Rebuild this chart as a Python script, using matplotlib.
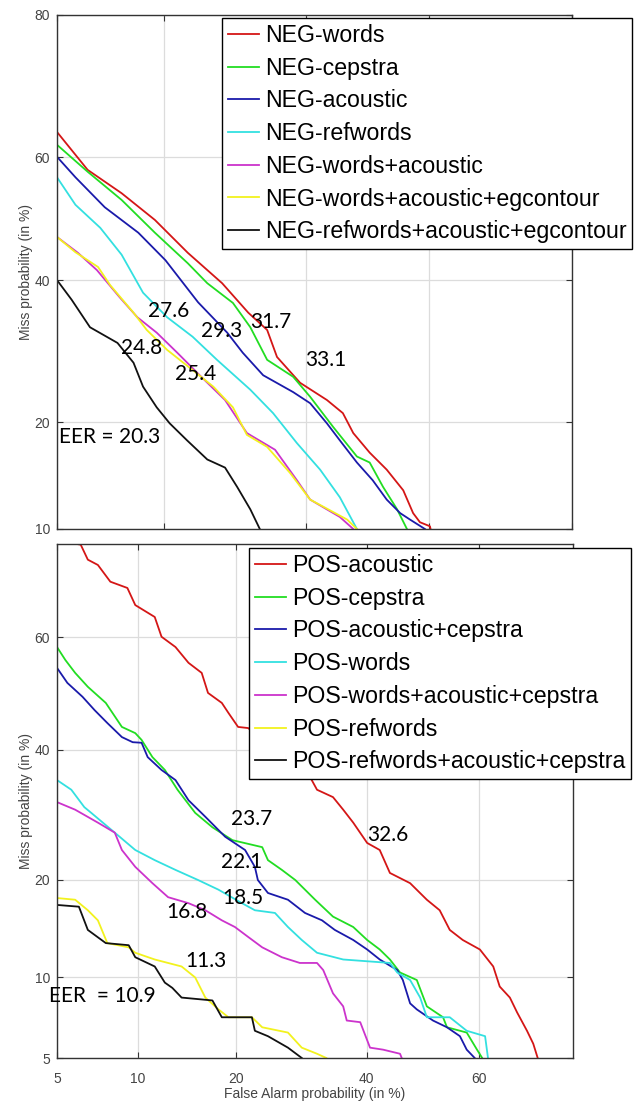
import math
import numpy as np
import matplotlib
matplotlib.use('Agg')
import matplotlib.pyplot as plt

# ---- data: false alarm / miss probabilities (in %) ----
# NEG panel
neg_words_fa = [10.0, 12.4, 15.5, 19.0, 22.9, 27.4, 31.1, 33.9, 35.4, 39.0, 43.3, 45.9, 47.6, 50.3, 53.1, 55.8, 57.4, 58.5, 60.1, 60.2]
neg_words_miss = [64.0, 58.0, 54.2, 49.8, 44.4, 39.5, 34.9, 32.3, 28.4, 24.9, 22.7, 21.1, 18.8, 16.7, 15.0, 13.1, 11.2, 10.5, 10.2, 10.0]
neg_cepstra_fa = [10.0, 12.4, 15.5, 19.0, 22.9, 25.4, 28.9, 31.4, 33.9, 37.9, 40.6, 44.3, 48.2, 50.3, 52.5, 54.8, 56.4]
neg_cepstra_miss = [62.0, 57.7, 53.1, 47.7, 42.7, 39.5, 36.4, 32.7, 28.0, 25.7, 23.1, 19.5, 16.3, 15.7, 13.4, 11.5, 10.0]
neg_acoustic_fa = [10.0, 11.4, 13.9, 17.2, 20.2, 24.2, 28.1, 30.3, 33.3, 37.9, 40.6, 43.3, 45.4, 48.2, 50.8, 53.1, 55.3, 56.9, 59.3]
neg_acoustic_miss = [60.1, 56.8, 51.9, 47.7, 43.2, 36.5, 31.9, 29.0, 25.9, 23.7, 22.3, 19.9, 18.0, 15.7, 14.0, 12.3, 11.2, 10.7, 10.0]
neg_refwords_fa = [10.0, 11.4, 13.5, 15.5, 17.7, 20.4, 23.5, 26.7, 31.4, 34.8, 38.5, 42.2, 45.4, 48.2]
neg_refwords_miss = [56.8, 52.3, 48.5, 44.1, 38.0, 34.2, 31.3, 28.0, 24.0, 21.1, 17.7, 15.0, 12.5, 10.0]
neg_wa_fa = [10.0, 11.6, 13.2, 15.3, 17.1, 19.2, 21.6, 24.6, 27.8, 30.9, 35.1, 38.5, 40.6, 45.4, 47.6]
neg_wa_miss = [47.0, 44.4, 41.6, 37.3, 34.2, 31.9, 29.0, 25.7, 22.7, 18.8, 17.0, 14.0, 12.3, 10.9, 10.0]
neg_wae_fa = [10.0, 11.4, 13.3, 14.4, 16.7, 18.1, 20.4, 23.5, 26.2, 28.9, 30.9, 33.9, 37.4, 40.6, 46.6, 48.2]
neg_wae_miss = [47.0, 44.5, 42.1, 39.2, 34.9, 32.3, 29.4, 26.6, 24.4, 21.8, 18.6, 17.3, 14.7, 12.3, 10.7, 10.0]
neg_rae_fa = [10.0, 11.1, 12.6, 15.1, 16.7, 17.7, 19.2, 20.7, 22.8, 25.4, 27.8, 29.5, 31.4, 32.8]
neg_rae_miss = [40.0, 36.9, 32.7, 30.4, 27.6, 24.4, 21.8, 19.9, 18.0, 16.0, 15.2, 13.4, 11.5, 10.0]

# POS panel
pos_acoustic_fa = [6.0, 6.2, 6.6, 7.2, 8.0, 9.2, 9.8, 11.4, 12.0, 13.3, 14.6, 16.0, 16.7, 18.3, 19.1, 20.3, 21.6,
                   30.6, 31.7, 34.3, 36.0, 37.7, 40.1, 42.3, 44.1, 47.7, 50.7, 53.0, 54.8, 57.1, 60.1, 62.4, 63.5, 65.2, 66.4, 68.0, 69.0, 69.7]
pos_acoustic_miss = [75.0, 74.9, 72.7, 71.9, 69.3, 68.3, 65.5, 63.5, 60.1, 58.3, 55.5, 53.7, 50.1, 48.3, 46.5, 44.0, 43.8,
                     35.3, 33.2, 32.0, 30.0, 28.0, 25.0, 24.0, 20.9, 19.6, 17.6, 16.4, 14.3, 13.3, 12.4, 10.9, 9.3, 8.5, 7.5, 6.4, 5.7, 5.0]
pos_cepstra_fa = [5.0, 5.4, 5.9, 6.6, 7.7, 8.8, 9.8, 10.3, 11.2, 12.3, 13.5, 15.3, 17.2, 19.6, 23.5, 24.3, 26.3, 28.3,
                  31.4, 34.3, 37.7, 40.1, 42.3, 44.1, 45.9, 48.9, 50.7, 53.6, 54.3, 57.8, 59.6, 60.5]
pos_cepstra_miss = [58.3, 56.0, 53.7, 51.2, 48.3, 44.0, 42.9, 41.7, 38.7, 36.5, 33.2, 29.5, 27.3, 25.4, 24.4, 22.6, 21.3, 20.0,
                    17.6, 15.7, 14.6, 13.3, 12.4, 11.5, 10.4, 9.8, 7.9, 7.2, 6.6, 6.3, 5.4, 5.0]
pos_ac_fa = [5.0, 5.5, 6.3, 7.0, 7.8, 8.8, 9.6, 10.3, 10.8, 12.0, 13.3, 14.6, 16.4, 18.7, 21.2, 22.5, 22.9, 24.3, 27.2,
             29.8, 32.5, 34.6, 37.7, 40.1, 42.3, 45.4, 46.4, 47.7, 48.9, 51.8, 54.3, 56.6, 57.8, 59.2]
pos_ac_miss = [54.6, 51.9, 49.4, 47.0, 44.7, 42.2, 41.3, 41.2, 38.7, 36.5, 34.8, 31.5, 28.9, 25.9, 24.0, 21.7, 20.0, 18.4, 17.6,
               16.1, 15.3, 14.3, 13.3, 12.4, 11.5, 10.6, 9.8, 8.1, 7.7, 7.0, 6.6, 6.1, 5.4, 5.0]
pos_words_fa = [5.0, 5.7, 6.4, 6.8, 8.3, 9.8, 11.4, 13.3, 15.6, 17.9, 20.8, 22.5, 25.3, 27.2, 29.3, 31.7, 36.0, 44.1,
                45.4, 47.7, 49.5, 50.7, 54.8, 57.8, 61.0, 61.5]
pos_words_miss = [34.8, 33.2, 30.4, 29.5, 26.5, 24.0, 22.6, 21.3, 20.0, 18.8, 17.2, 16.4, 16.1, 14.6, 13.3, 12.1, 11.5, 11.2,
                  10.4, 9.8, 8.5, 7.2, 7.2, 6.4, 6.1, 5.0]
pos_wac_fa = [5.0, 5.9, 7.2, 8.3, 8.8, 9.8, 11.2, 12.6, 14.6, 16.4, 18.3, 19.9, 21.6, 23.5, 26.3, 29.0, 31.7, 32.7,
              34.3, 36.0, 36.6, 38.9, 40.6, 42.9, 45.9, 46.2]
pos_wac_miss = [31.2, 30.0, 28.0, 26.5, 24.0, 21.7, 19.6, 17.9, 17.2, 16.4, 15.3, 14.6, 13.6, 12.6, 11.7, 11.2, 11.2, 10.6,
                8.8, 7.9, 7.0, 6.9, 5.5, 5.4, 5.2, 5.0]
pos_refwords_fa = [5.0, 5.9, 6.6, 7.2, 7.8, 9.3, 9.8, 11.4, 13.9, 15.3, 16.4, 17.9, 19.1, 22.1, 23.5, 27.2, 29.3, 31.7, 33.2]
pos_refwords_miss = [17.8, 17.6, 16.4, 15.3, 13.0, 12.6, 12.1, 11.5, 10.9, 10.0, 8.5, 7.7, 7.2, 7.2, 6.6, 6.3, 5.5, 5.2, 5.0]
pos_rac_fa = [5.0, 6.1, 6.6, 7.7, 9.3, 9.8, 11.4, 12.3, 13.0, 13.9, 17.2, 18.3, 22.1, 22.5, 24.3, 27.2, 29.3]
pos_rac_miss = [17.0, 16.8, 14.3, 13.0, 12.8, 11.7, 10.9, 9.6, 9.2, 8.5, 8.3, 7.2, 7.2, 6.4, 6.1, 5.5, 5.0]

neg_labels = ['NEG-words', 'NEG-cepstra', 'NEG-acoustic', 'NEG-refwords', 'NEG-words+acoustic',
              'NEG-words+acoustic+egcontour', 'NEG-refwords+acoustic+egcontour']
pos_labels = ['POS-acoustic', 'POS-cepstra', 'POS-acoustic+cepstra', 'POS-words',
              'POS-words+acoustic+cepstra', 'POS-refwords', 'POS-refwords+acoustic+cepstra']
colors = ['#d41616', '#22dd22', '#1a1aaa', '#33e0e0', '#cc33cc', '#f2f21e', '#111111']

neg_eer = ['33.1', '31.7', '29.3', '27.6', '25.4', '24.8', 'EER = 20.3']
pos_eer = ['32.6', '23.7', '22.1', '18.5', '16.8', '11.3', 'EER  = 10.9']

# ---- normal deviate scale ----
_a = [-3.969683028665376e+01, 2.209460984245205e+02, -2.759285104469687e+02,
      1.383577518672690e+02, -3.066479806614716e+01, 2.506628277459239e+00]
_b = [-5.447609879822406e+01, 1.615858368580409e+02, -1.556989798598866e+02,
      6.680131188771972e+01, -1.328068155288572e+01, 1.0]
_c = [-7.784894002430293e-03, -3.223964580411365e-01, -2.400758277161838e+00,
      -2.549732539343734e+00, 4.374664141464968e+00, 2.938163982698783e+00]
_d = [7.784695709041462e-03, 3.224671290700398e-01, 2.445134137142996e+00,
      3.754408661907416e+00, 1.0]


def probit(pct):
    p = np.clip(np.asarray(pct, dtype=float) / 100.0, 1e-9, 1 - 1e-9)
    out = np.empty_like(p)
    lo = p < 0.02425
    hi = p > 1 - 0.02425
    mid = ~(lo | hi)
    q = np.sqrt(-2 * np.log(p[lo]))
    out[lo] = np.polyval(_c, q) / np.polyval(_d, q)
    q = np.sqrt(-2 * np.log(1 - p[hi]))
    out[hi] = -np.polyval(_c, q) / np.polyval(_d, q)
    q = p[mid] - 0.5
    r = q * q
    out[mid] = np.polyval(_a, r) * q / np.polyval(_b, r)
    return out


_erf = np.vectorize(math.erf)


def inv_probit(z):
    z = np.asarray(z, dtype=float)
    return 50.0 * (1.0 + _erf(z / math.sqrt(2.0)))


plt.rcParams['font.family'] = ['Liberation Sans', 'DejaVu Sans']

fig = plt.figure(figsize=(6.35, 11.01), dpi=100)
ax1 = fig.add_axes([57 / 635, 1 - 529 / 1101, 515 / 635, 514 / 1101])
ax2 = fig.add_axes([57 / 635, 1 - 1058 / 1101, 516 / 635, 514 / 1101])

neg_series = [(neg_words_fa, neg_words_miss), (neg_cepstra_fa, neg_cepstra_miss),
              (neg_acoustic_fa, neg_acoustic_miss), (neg_refwords_fa, neg_refwords_miss),
              (neg_wa_fa, neg_wa_miss), (neg_wae_fa, neg_wae_miss), (neg_rae_fa, neg_rae_miss)]
pos_series = [(pos_acoustic_fa, pos_acoustic_miss), (pos_cepstra_fa, pos_cepstra_miss),
              (pos_ac_fa, pos_ac_miss), (pos_words_fa, pos_words_miss),
              (pos_wac_fa, pos_wac_miss), (pos_refwords_fa, pos_refwords_miss),
              (pos_rac_fa, pos_rac_miss)]

for ax, series, labels in [(ax1, neg_series, neg_labels), (ax2, pos_series, pos_labels)]:
    ax.set_xscale('function', functions=(probit, inv_probit))
    ax.set_yscale('function', functions=(probit, inv_probit))
    for (fa, miss), lab, col in zip(series, labels, colors):
        ax.plot(fa, miss, color=col, lw=1.3, label=lab)
    ax.grid(True, color='#dcdcdc', lw=0.9)
    ax.set_axisbelow(True)
    ax.tick_params(direction='in', top=True, right=True, length=4, width=0.8,
                   labelsize=10, labelcolor='#444444', color='#333333')
    ax.tick_params(axis='y', pad=5)
    ax.minorticks_off()
    for s in ax.spines.values():
        s.set_color('#333333')
        s.set_linewidth(1.0)
    ax.set_ylabel('Miss probability (in %)', fontsize=10, color='#444444', labelpad=1)

# top panel axes
ax1.set_xlim(10, 80)
ax1.set_ylim(10, 80)
ax1.set_xticks([10, 20, 40, 60, 80])
ax1.set_xticklabels([])
ax1.set_yticks([10, 20, 40, 60, 80])
ax1.set_yticklabels(['10', '20', '40', '60', '80'])

# bottom panel axes
ax2.set_xlim(5, 75)
ax2.set_ylim(5, 75)
ax2.set_xticks([5, 10, 20, 40, 60])
ax2.set_xticklabels(['5', '10', '20', '40', '60'])
ax2.set_yticks([5, 10, 20, 40, 60])
ax2.set_yticklabels(['5', '10', '20', '40', '60'])
ax2.tick_params(axis='x', pad=10)
ax2.set_xlabel('False Alarm probability (in %)', fontsize=10, color='#444444', labelpad=1)

leg_kw = dict(loc='upper left', fontsize=16.7, frameon=True, fancybox=False, framealpha=1,
              edgecolor='black', borderpad=0.25, labelspacing=0.42, handlelength=1.35,
              handletextpad=0.25, borderaxespad=0)
l1 = ax1.legend(bbox_to_anchor=(0.320, 0.994), **leg_kw)
l2 = ax2.legend(bbox_to_anchor=(0.372, 0.992), **leg_kw)
for lg in (l1, l2):
    lg.get_frame().set_linewidth(1.0)

# equal error rate annotations (axes fraction positions)
neg_pos = [(0.522, 0.329), (0.416, 0.403), (0.320, 0.385), (0.217, 0.424),
           (0.270, 0.302), (0.165, 0.352)]
for txt, (px, py) in zip(neg_eer[:-1], neg_pos):
    ax1.text(px, py, txt, transform=ax1.transAxes, ha='center', va='center',
             fontsize=15, family=['Lato', 'DejaVu Sans'])
ax1.text(0.004, 0.179, neg_eer[-1], transform=ax1.transAxes, ha='left', va='center',
         fontsize=15, family=['Lato', 'DejaVu Sans'])

pos_pos = [(0.641, 0.434), (0.378, 0.465), (0.357, 0.381), (0.360, 0.311),
           (0.252, 0.284), (0.289, 0.189)]
for txt, (px, py) in zip(pos_eer[:-1], pos_pos):
    ax2.text(px, py, txt, transform=ax2.transAxes, ha='center', va='center',
             fontsize=15, family=['Lato', 'DejaVu Sans'])
ax2.text(-0.016, 0.121, pos_eer[-1], transform=ax2.transAxes, ha='left', va='center',
         fontsize=15, family=['Lato', 'DejaVu Sans'], clip_on=False)

fig.savefig('out.png', dpi=100)
